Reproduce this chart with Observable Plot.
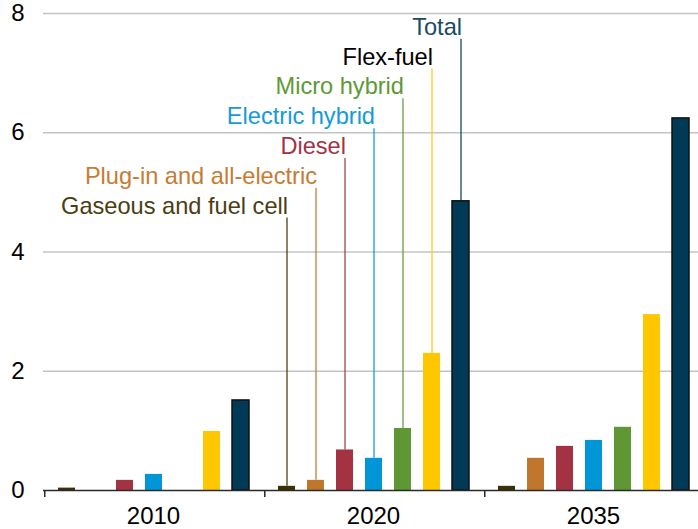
<!DOCTYPE html>
<html>
<head>
<meta charset="utf-8">
<script src="https://cdn.jsdelivr.net/npm/d3@7"></script>
<script src="https://cdn.jsdelivr.net/npm/@observablehq/plot@0.6"></script>
<style>
  html, body { margin: 0; padding: 0; background: white; overflow: hidden; }
</style>
</head>
<body>
<div id="chart"></div>
<script>
// ---- data ----
const years = ["2010", "2020", "2035"];
const series = ["Gaseous and fuel cell", "Plug-in and all-electric", "Diesel", "Electric hybrid", "Micro hybrid", "Flex-fuel", "Total"];
const values2010 = [0.04, null, 0.17, 0.27, null, 0.99, 1.51];
const values2020 = [0.07, 0.17, 0.68, 0.54, 1.04, 2.30, 4.85];
const values2035 = [0.07, 0.54, 0.74, 0.84, 1.06, 2.95, 6.24];
const barColors = ["#3d3104", "#c0762c", "#a33343", "#0096d8", "#5e9734", "#ffc700", "#003a56"];
const labelColors = ["#4a3e12", "#c67c34", "#a33343", "#159bd8", "#5e9a37", "#000000", "#1b4a66"];
const yTicks = [0, 2, 4, 6, 8];
const gridValues = [2, 4, 6, 8];

// ---- layout ----
const W = 704, H = 529, mL = 43, mR = 1, mT = 13, mB = 39;
const padInner = 0.42, padOuter = 0.47;
const groupW = (W - mL - mR) / years.length;
const step = groupW / (series.length - padInner + 2 * padOuter);
const firstCenter = padOuter * step + (1 - padInner) * step / 2;

const allValues = [values2010, values2020, values2035];
const table = years.flatMap((yr, i) => series.map((s, j) => ({
  year: yr, series: s, value: allValues[i][j], color: barColors[j]
}))).filter(d => d.value != null);

const labelYear = "2020";
const labels = series.map((s, j) => ({
  year: labelYear, series: s, value: values2020[j],
  labelY: 4.77 + 0.5 * j,
  color: labelColors[j], line: barColors[j]
}));

const plot = Plot.plot({
  width: W, height: H,
  marginLeft: mL, marginRight: mR, marginTop: mT, marginBottom: mB,
  style: {
    fontFamily: "'Liberation Sans', Arial, sans-serif",
    fontSize: "24px", color: "#000", background: "white",
    maxWidth: "none", overflow: "hidden"
  },
  fx: { domain: years, padding: 0, label: null, tickSize: 0, tickPadding: 16, axis: "bottom", fontSize: 23 },
  x: { domain: series, paddingInner: padInner, paddingOuter: padOuter, axis: null },
  y: { domain: [0, 8], ticks: yTicks, tickSize: 0, tickPadding: 19, label: null, tickFormat: d => String(d) },
  marks: [
    Plot.ruleY(gridValues, { stroke: "#c4c4c4", strokeWidth: 1.5 }),
    Plot.ruleX(labels, {
      fx: "year", x: "series", y1: "labelY", y2: "value",
      stroke: "line", strokeWidth: 1.2, insetTop: 12
    }),
    Plot.text(labels, {
      fx: "year", x: "series", y: "labelY", text: "series",
      fill: "color", textAnchor: "end", dx: 1, fontSize: 23.6
    }),
    Plot.barY(table, { fx: "year", x: "series", y: "value", fill: "color" }),
    Plot.barY(table.filter(d => d.series === "Total"), {
      fx: "year", x: "series", y: "value", fill: "color", stroke: "#111", strokeWidth: 1.5
    }),
    Plot.ruleY([0], { stroke: "#2a2a2a", strokeWidth: 1.6 }),
    Plot.ruleX(years, {
      fx: d => d, x: () => series[0], y1: 0, y2: 0,
      dx: -firstCenter, insetBottom: -7, stroke: "#2a2a2a", strokeWidth: 1.5
    })
  ]
});
document.getElementById("chart").appendChild(plot);
</script>
</body>
</html>
